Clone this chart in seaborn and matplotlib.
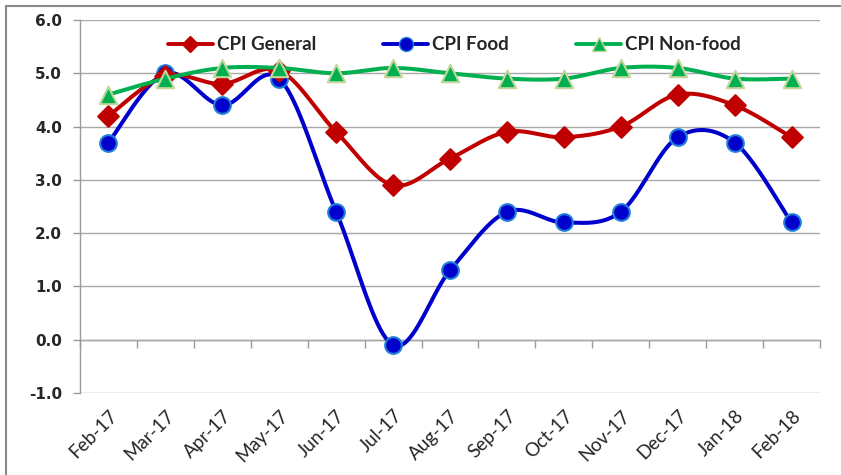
import numpy as np
import pandas as pd
import matplotlib
matplotlib.use("Agg")
import matplotlib.pyplot as plt
from matplotlib.lines import Line2D
from matplotlib.patches import Rectangle
import seaborn as sns

months = ["Feb-17", "Mar-17", "Apr-17", "May-17", "Jun-17", "Jul-17", "Aug-17",
          "Sep-17", "Oct-17", "Nov-17", "Dec-17", "Jan-18", "Feb-18"]
cpi_general = [4.2, 4.95, 4.8, 5.05, 3.9, 2.9, 3.4, 3.9, 3.8, 4.0, 4.6, 4.4, 3.8]
cpi_food = [3.7, 5.0, 4.4, 4.9, 2.4, -0.1, 1.3, 2.4, 2.2, 2.4, 3.8, 3.7, 2.2]
cpi_nonfood = [4.6, 4.9, 5.1, 5.1, 5.0, 5.1, 5.0, 4.9, 4.9, 5.1, 5.1, 4.9, 4.9]
y_ticks = [-1.0, 0.0, 1.0, 2.0, 3.0, 4.0, 5.0, 6.0]


def smooth(y, n=40):
    """Excel-like smoothed line (Catmull-Rom Bezier) through the points."""
    y = np.asarray(y, float)
    x = np.arange(len(y), dtype=float)
    xs, ys = [], []
    for i in range(len(y) - 1):
        p0 = np.array([x[max(i - 1, 0)], y[max(i - 1, 0)]])
        p1 = np.array([x[i], y[i]])
        p2 = np.array([x[i + 1], y[i + 1]])
        p3 = np.array([x[min(i + 2, len(y) - 1)], y[min(i + 2, len(y) - 1)]])
        c1 = p1 + (p2 - p0) / 6.0
        c2 = p2 - (p3 - p1) / 6.0
        t = np.linspace(0, 1, n, endpoint=(i == len(y) - 2))[:, None]
        b = ((1 - t) ** 3) * p1 + 3 * ((1 - t) ** 2) * t * c1 + 3 * (1 - t) * t ** 2 * c2 + t ** 3 * p2
        xs.append(b[:, 0]); ys.append(b[:, 1])
    return np.concatenate(xs), np.concatenate(ys)


sns.set_theme(style="white")
plt.rcParams["font.family"] = ["Lato", "DejaVu Sans"]

GRAY = "#9A9A9A"
fig = plt.figure(figsize=(8.41, 4.75), dpi=100)
ax = fig.add_axes([80 / 841, 1 - 393 / 475, (820 - 80) / 841, (393 - 20) / 475])

series = [
    ("CPI Food", cpi_food, "#0000CC", "o", "#1E7FD8", 12, 1),
    ("CPI General", cpi_general, "#C00000", "D", "#C00000", 10.5, 2),
    ("CPI Non-food", cpi_nonfood, "#00B050", "^", "#C3D69B", 12.5, 3),
]
xi = np.arange(len(months))
for name, vals, col, mk, mec, ms, z in series:
    sx, sy = smooth(vals)
    sns.lineplot(x=sx, y=sy, ax=ax, color=col, lw=2.9, sort=False, zorder=z, legend=False)
    sns.scatterplot(x=xi, y=vals, ax=ax, marker=mk, s=ms ** 2, color=col,
                    edgecolor=mec, linewidth=1.5, zorder=z + 0.5, legend=False)

ax.set_xlim(-0.5, 12.5)
ax.set_ylim(-1.0, 6.0)
ax.set_yticks(y_ticks)
ax.set_yticklabels([f"{v:.1f}" for v in y_ticks], fontsize=11, fontweight="bold",
                   family="DejaVu Sans")
ax.set_xticks(xi)
ax.set_xticklabels(months, rotation=45, ha="right", rotation_mode="anchor", fontsize=13.5)
ax.tick_params(axis="x", length=0, pad=10)
ax.tick_params(axis="y", length=5, width=1, color=GRAY, direction="out", left=True, pad=8)
ax.grid(axis="y", color="#A8A8A8", lw=1.0)
ax.set_axisbelow(True)
for s in ["top", "right", "bottom"]:
    ax.spines[s].set_visible(False)
ax.spines["left"].set_color(GRAY)
ax.spines["left"].set_linewidth(1.0)

# category axis crossing at 0 with tick marks between categories
sec = ax.secondary_xaxis(1.0 / 7.0)
sec.set_xticks(np.arange(-0.5, 13.0, 1.0))
sec.set_xticklabels([])
sec.tick_params(axis="x", length=6, width=1, color=GRAY, direction="out")
sec.spines["bottom"].set_color(GRAY)
sec.spines["bottom"].set_linewidth(1.0)

handles = [
    Line2D([], [], color="#C00000", lw=2.8, marker="D", ms=8, mec="#C00000"),
    Line2D([], [], color="#0000CC", lw=2.8, marker="o", ms=10, mec="#1E7FD8"),
    Line2D([], [], color="#00B050", lw=2.8, marker="^", ms=10, mec="#C3D69B"),
]
leg = ax.legend(handles, ["CPI General", "CPI Food", "CPI Non-food"], ncol=3,
                loc="center", bbox_to_anchor=(0.506, 0.934), frameon=False,
                prop={"weight": "bold", "size": 13.5}, handlelength=2.4,
                handletextpad=0.2, columnspacing=3.6)

fig.add_artist(Rectangle((6 / 841, -0.1), 1.2, 1 - 6 / 475 + 0.1, transform=fig.transFigure,
                         fill=False, edgecolor="#8A8A8A", lw=1.5))

fig.savefig("out.png", dpi=100)
